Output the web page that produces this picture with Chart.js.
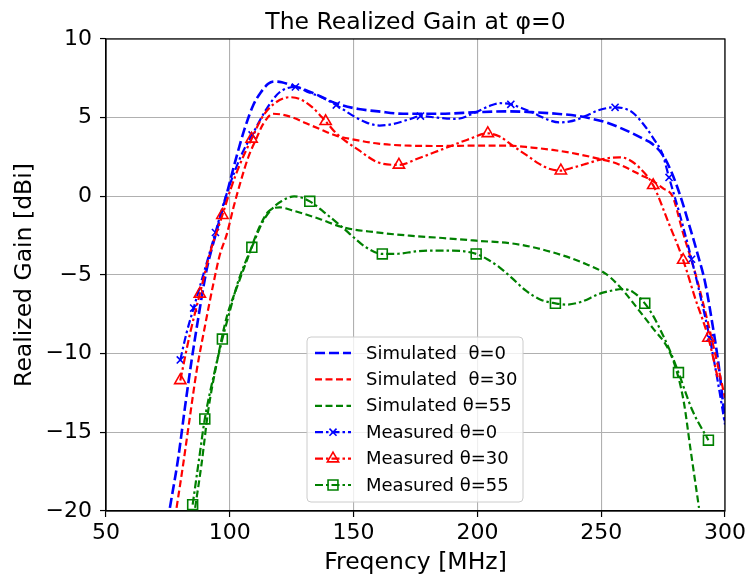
<!DOCTYPE html>
<html>
<head>
<meta charset="utf-8">
<title>The Realized Gain at φ=0</title>
<script src="https://cdn.jsdelivr.net/npm/chart.js@4.4.0/dist/chart.umd.min.js"></script>
<style>
  html, body { margin: 0; padding: 0; background: #fff; }
  #wrap { width: 749px; height: 578px; }
</style>
</head>
<body>
<div id="wrap"><canvas id="chart" width="749" height="578"></canvas></div>
<script>
// ejes
const xTicks = [50, 100, 150, 200, 250, 300];
const yTicks = [-20, -15, -10, -5, 0, 5, 10];

// simulado theta=0
const simFreq0 = [75.8, 79.2, 81.9, 84.6, 87.3, 90.6, 94.5, 98.5, 102.5, 106, 109.5, 112.5, 115.5, 118, 121, 125, 130, 136, 143, 152, 160, 170, 185, 200, 212, 222, 232, 241, 247, 252, 257, 262, 267, 270.5, 275, 278.5, 282, 285.5, 289, 292, 295, 297.5, 300];
const simGain0 = [-19.8, -16.6, -13.4, -10.4, -7.7, -4.7, -2.3, 0, 2.4, 4.3, 5.8, 6.6, 7.15, 7.3, 7.25, 7.05, 6.8, 6.4, 5.9, 5.55, 5.4, 5.25, 5.25, 5.35, 5.4, 5.35, 5.25, 5.1, 4.9, 4.7, 4.4, 4.05, 3.65, 3.35, 2.6, 1.5, 0, -1.8, -3.7, -5.5, -8.2, -10.8, -14.3];

// simulado theta=30
const simFreq30 = [78.5, 81.2, 83.9, 86.6, 89.9, 93.3, 96, 98.8, 101.5, 104.5, 107.5, 110.8, 113.5, 117.5, 121, 125.6, 130, 136.3, 143, 152.4, 160, 172.6, 185, 199.5, 212.9, 222, 230.4, 240, 249.2, 256, 262.6, 266, 270.6, 275, 278.8, 283, 288.2, 291.5, 295, 300];
const simGain30 = [-19.8, -17, -14, -11.1, -8.3, -5.6, -3.7, -2.4, -0.7, 1.0, 2.5, 3.7, 4.6, 5.25, 5.2, 5.0, 4.7, 4.28, 3.86, 3.54, 3.35, 3.22, 3.2, 3.22, 3.22, 3.1, 2.95, 2.7, 2.38, 2.1, 1.63, 1.35, 1.0, 0.5, 0, -2.3, -5, -7, -9.3, -12.8];

// simulado theta=55
const simFreq55 = [86, 88.6, 91.3, 94.6, 98.7, 103.3, 107.3, 111, 115.4, 120.2, 125.6, 136.3, 145.7, 159.2, 172.6, 186, 199.5, 215.6, 230.4, 243.8, 251.9, 256, 260, 265, 270.6, 277.4, 281, 283.5, 286, 289.5];
const simGain55 = [-19.8, -17, -13.6, -10.7, -7.7, -5.6, -3.9, -2.3, -1.0, -0.7, -0.91, -1.44, -1.97, -2.29, -2.5, -2.65, -2.82, -3.03, -3.56, -4.3, -4.93, -5.5, -6.2, -7.2, -8.33, -9.8, -11.4, -13.2, -16.0, -19.8];

// medido theta=0
const measFreq0 = [80, 82.5, 85.4, 90, 94.2, 98, 102, 105.5, 109, 115, 120, 126.5, 132, 137, 143, 150, 155, 160.5, 166, 172.6, 177, 184, 191.4, 199.3, 205, 209, 213.5, 218, 222, 228, 233, 237, 241, 245, 249.2, 255.6, 259, 262.6, 268, 271, 274.7, 277.4, 282, 286.5, 290, 293.8, 297, 300];
const measGain0 = [-10.4, -8.7, -7.1, -4.6, -2.3, -0.2, 1.6, 2.9, 3.9, 5.6, 6.6, 6.95, 6.6, 6.3, 5.8, 5.1, 4.7, 4.5, 4.6, 4.9, 5.1, 5.0, 4.92, 5.34, 5.75, 5.92, 5.85, 5.6, 5.34, 4.9, 4.7, 4.75, 4.92, 5.2, 5.49, 5.66, 5.6, 5.34, 4.39, 3.7, 2.7, 1.2, -1.3, -4.0, -6.3, -9.0, -11.7, -14.5];
const measMarks0 = [80, 85.4, 94.2, 109, 126.5, 143, 177, 213.5, 255.6, 277.4, 286.5, 293.8];

// medido theta=30
const measFreq30 = [80, 83.9, 87.9, 92, 97, 100, 104, 108.8, 113, 118, 124.2, 128, 133, 138.7, 143, 152.4, 160, 168.3, 176, 186, 196, 204.2, 209, 214.2, 220, 225, 229, 233.7, 238, 243.8, 250, 257.3, 261, 265.3, 271, 277, 283.1, 288, 293.3, 297];
const measGain30 = [-11.7, -8.75, -6.2, -3.6, -1.2, 0.3, 2.0, 3.65, 5.0, 5.9, 6.3, 6.2, 5.7, 4.77, 4.0, 2.9, 2.15, 2.0, 2.4, 3.0, 3.6, 4.0, 3.8, 3.22, 2.6, 2.06, 1.75, 1.63, 1.8, 2.06, 2.35, 2.48, 2.35, 1.84, 0.7, -1.6, -4.05, -6.5, -9.0, -11.5];
const measMarks30 = [80, 87.9, 97, 108.8, 138.7, 168.3, 204.2, 233.7, 271, 283.1, 293.3];

// medido theta=55
const measFreq55 = [85, 87.5, 89.9, 93.5, 97, 100, 103, 106, 108.9, 113, 117, 121, 126, 132.3, 138, 145.7, 150, 155, 161.6, 168, 175, 182, 190, 199.5, 204, 208.9, 214, 219.6, 226, 231.5, 236, 242, 249.2, 254, 258.6, 263, 267.6, 271, 274.7, 278, 281.2, 286.8, 293.3];
const measGain55 = [-19.6, -16.8, -14.15, -11.4, -9.07, -7.3, -5.6, -4.3, -3.24, -1.7, -0.8, -0.3, 0, -0.32, -1.0, -2.0, -2.6, -3.24, -3.66, -3.65, -3.5, -3.45, -3.45, -3.66, -4.0, -4.51, -5.2, -6.0, -6.6, -6.8, -6.88, -6.7, -6.2, -6.0, -5.89, -6.1, -6.8, -7.6, -8.75, -9.9, -11.2, -13.6, -15.5];
const measMarks55 = [85, 89.9, 97, 108.9, 132.3, 161.6, 199.5, 231.5, 267.6, 281.2, 293.3];

const FONT = 'DejaVu Sans';

function toPoints(xs, ys) {
  return xs.map((x, i) => ({ x: x, y: ys[i] }));
}

function simSet(label, xs, ys, color, width, dash, order) {
  return {
    label, data: toPoints(xs, ys), borderColor: color, borderWidth: width, borderDash: dash,
    pointRadius: 0, fill: false, cubicInterpolationMode: 'monotone', order
  };
}

function measSet(label, xs, ys, marks, color, style, radius, order) {
  const markSet = new Set(marks);
  return {
    label, data: toPoints(xs, ys), borderColor: color, borderWidth: 2.2, borderDash: [8, 3, 2.5, 3],
    pointStyle: style,
    pointRadius: c => (c.raw && markSet.has(c.raw.x)) ? radius : 0,
    pointHoverRadius: 0,
    pointBorderColor: color, pointBackgroundColor: 'rgba(0,0,0,0)', pointBorderWidth: 1.6,
    fill: false, cubicInterpolationMode: 'monotone', order,
    legendRadius: radius
  };
}

const datasets = [
  simSet('Simulated  θ=0', simFreq0, simGain0, '#0000ff', 2.6, [10, 4], 5),
  simSet('Simulated  θ=30', simFreq30, simGain30, '#ff0000', 2.2, [7, 3.5], 4),
  simSet('Simulated θ=55', simFreq55, simGain55, '#008000', 2.2, [7, 3.5], 3),
  measSet('Measured θ=0', measFreq0, measGain0, measMarks0, '#0000ff', 'crossRot', 5, 2),
  measSet('Measured θ=30', measFreq30, measGain30, measMarks30, '#ff0000', 'triangle', 6.5, 1),
  measSet('Measured θ=55', measFreq55, measGain55, measMarks55, '#008000', 'rect', 7, 0)
];

// marcador para la leyenda
function drawMarker(ctx, style, x, y, r, color) {
  ctx.save();
  ctx.strokeStyle = color;
  ctx.lineWidth = 1.6;
  ctx.setLineDash([]);
  ctx.beginPath();
  if (style === 'crossRot') {
    const d = r * Math.SQRT1_2;
    ctx.moveTo(x - d, y - d); ctx.lineTo(x + d, y + d);
    ctx.moveTo(x - d, y + d); ctx.lineTo(x + d, y - d);
  } else if (style === 'triangle') {
    for (let k = 0; k < 3; k++) {
      const a = k * 2 * Math.PI / 3;
      const px = x + Math.sin(a) * r, py = y - Math.cos(a) * r;
      if (k === 0) ctx.moveTo(px, py); else ctx.lineTo(px, py);
    }
    ctx.closePath();
  } else if (style === 'rect') {
    const s = r * Math.SQRT1_2;
    ctx.rect(x - s, y - s, 2 * s, 2 * s);
  }
  ctx.stroke();
  ctx.restore();
}

const framePlugin = {
  id: 'frame',
  afterDatasetsDraw(chart) {
    const { ctx, chartArea: a } = chart;
    ctx.save();
    ctx.strokeStyle = '#000';
    ctx.lineWidth = 1.2;
    ctx.strokeRect(a.left, a.top, a.right - a.left, a.bottom - a.top);
    ctx.restore();
  }
};

const titlePlugin = {
  id: 'plotTitle',
  afterDraw(chart) {
    const { ctx, chartArea: a } = chart;
    ctx.save();
    ctx.fillStyle = '#000';
    ctx.font = '23.5px "' + FONT + '"';
    ctx.textAlign = 'center';
    ctx.textBaseline = 'alphabetic';
    ctx.fillText('The Realized Gain at φ=0', (a.left + a.right) / 2, 28.5);
    ctx.restore();
  }
};

const legendPlugin = {
  id: 'insideLegend',
  afterDraw(chart) {
    const ctx = chart.ctx;
    const bx = 307, by = 337, bw = 216, bh = 165, rad = 4;
    ctx.save();
    ctx.beginPath();
    ctx.moveTo(bx + rad, by);
    ctx.arcTo(bx + bw, by, bx + bw, by + bh, rad);
    ctx.arcTo(bx + bw, by + bh, bx, by + bh, rad);
    ctx.arcTo(bx, by + bh, bx, by, rad);
    ctx.arcTo(bx, by, bx + bw, by, rad);
    ctx.closePath();
    ctx.fillStyle = 'rgba(255,255,255,0.8)';
    ctx.fill();
    ctx.strokeStyle = '#cccccc';
    ctx.lineWidth = 1;
    ctx.stroke();

    ctx.font = '18px "' + FONT + '"';
    ctx.textBaseline = 'middle';
    ctx.textAlign = 'left';
    chart.data.datasets.forEach((ds, i) => {
      const yy = by + 16 + i * 26.4;
      ctx.save();
      ctx.strokeStyle = ds.borderColor;
      ctx.lineWidth = ds.borderWidth;
      ctx.setLineDash(ds.borderDash);
      ctx.beginPath();
      ctx.moveTo(315, yy);
      ctx.lineTo(351, yy);
      ctx.stroke();
      ctx.restore();
      if (ds.legendRadius) drawMarker(ctx, ds.pointStyle, 333, yy, ds.legendRadius, ds.borderColor);
      ctx.fillStyle = '#000';
      ctx.fillText(ds.label, 366, yy + 1);
    });
    ctx.restore();
  }
};

new Chart(document.getElementById('chart'), {
  type: 'line',
  data: { datasets },
  plugins: [framePlugin, titlePlugin, legendPlugin],
  options: {
    responsive: false,
    animation: false,
    events: [],
    layout: { padding: { top: 39, right: 23, left: 0, bottom: 0 } },
    plugins: { legend: { display: false }, title: { display: false }, tooltip: { enabled: false } },
    scales: {
      x: {
        type: 'linear', min: xTicks[0], max: xTicks[xTicks.length - 1],
        afterBuildTicks: s => { s.ticks = xTicks.map(v => ({ value: v })); },
        afterFit: s => { s.height = 67; },
        ticks: { color: '#000', font: { family: FONT, size: 22 }, padding: 3, maxRotation: 0 },
        grid: { color: '#b0b0b0', lineWidth: 1.1, tickColor: '#000', tickLength: 6, tickWidth: 1.2 },
        border: { display: true, color: '#000', width: 1.2 },
        title: { display: true, text: 'Freqency [MHz]', color: '#000', font: { family: FONT, size: 23.5 }, padding: { top: 0, bottom: 1 } }
      },
      y: {
        type: 'linear', min: yTicks[0], max: yTicks[yTicks.length - 1],
        afterBuildTicks: s => { s.ticks = yTicks.map(v => ({ value: v })); },
        afterFit: s => { s.width = 106; },
        ticks: { color: '#000', font: { family: FONT, size: 22 }, padding: 8, callback: v => String(v).replace('-', '\u2212') },
        grid: { color: '#b0b0b0', lineWidth: 1.1, tickColor: '#000', tickLength: 6, tickWidth: 1.2 },
        border: { display: true, color: '#000', width: 1.2 },
        title: { display: true, text: 'Realized Gain [dBi]', color: '#000', font: { family: FONT, size: 23.5 }, padding: { top: 11, bottom: 0 } }
      }
    }
  }
});
</script>
</body>
</html>
